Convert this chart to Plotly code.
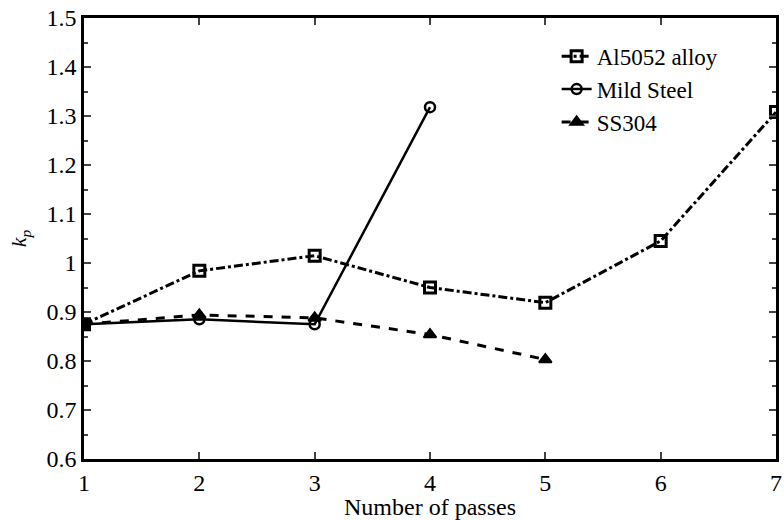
import plotly.graph_objects as go

passes = [1, 2, 3, 4, 5, 6, 7]
al5052 = [0.875, 0.984, 1.015, 0.950, 0.919, 1.045, 1.308]
mild_steel = [0.875, 0.885, 0.875, 1.318]
ss304 = [0.875, 0.894, 0.888, 0.854, 0.803]

FONT = "Liberation Serif"

fig = go.Figure()
fig.add_trace(go.Scatter(
    x=passes, y=al5052, name="Al5052 alloy", mode="lines+markers",
    line=dict(color="black", width=3, dash="dashdot"),
    marker=dict(symbol="square-open", size=11, color="black", line=dict(width=3, color="black")),
))
fig.add_trace(go.Scatter(
    x=passes[:len(mild_steel)], y=mild_steel, name="Mild Steel", mode="lines+markers",
    line=dict(color="black", width=2.5),
    marker=dict(symbol="circle-open", size=10, color="black", line=dict(width=2.5, color="black")),
))
fig.add_trace(go.Scatter(
    x=passes[:len(ss304)], y=ss304, name="SS304", mode="lines+markers",
    line=dict(color="black", width=3, dash="dash"),
    marker=dict(symbol="triangle-up", size=11, color="black", line=dict(width=2, color="black")),
))

fig.update_layout(
    width=784, height=520,
    margin=dict(l=84, r=2, t=18, b=60),
    paper_bgcolor="white", plot_bgcolor="white",
    font=dict(family=FONT, size=24, color="black"),
    showlegend=True,
    legend=dict(x=0.683, y=0.962, xanchor="left", yanchor="top",
                bgcolor="rgba(0,0,0,0)", borderwidth=0,
                font=dict(family=FONT, size=23), tracegroupgap=0),
)
fig.update_xaxes(
    range=[1, 7], tickvals=passes, ticks="inside", ticklen=7, tickwidth=2,
    showline=True, linecolor="black", linewidth=2.5, mirror="allticks",
    showgrid=False, zeroline=False, ticklabeloverflow="allow",
    title=dict(text="Number of passes", font=dict(family=FONT, size=24), standoff=6),
    tickfont=dict(family=FONT, size=24),
)
fig.update_yaxes(
    range=[0.6, 1.5], dtick=0.1, tick0=0.6, ticks="inside", ticklen=7, tickwidth=2,
    minor=dict(dtick=0.05, ticks="inside", ticklen=4, tickwidth=1.5, showgrid=False),
    showline=True, linecolor="black", linewidth=2.5, mirror="allticks",
    showgrid=False, zeroline=False,
    title=dict(text="<i>k<sub>p</sub></i>", font=dict(family=FONT, size=22), standoff=14),
    tickfont=dict(family=FONT, size=24),
)

fig.write_html("out.html")
